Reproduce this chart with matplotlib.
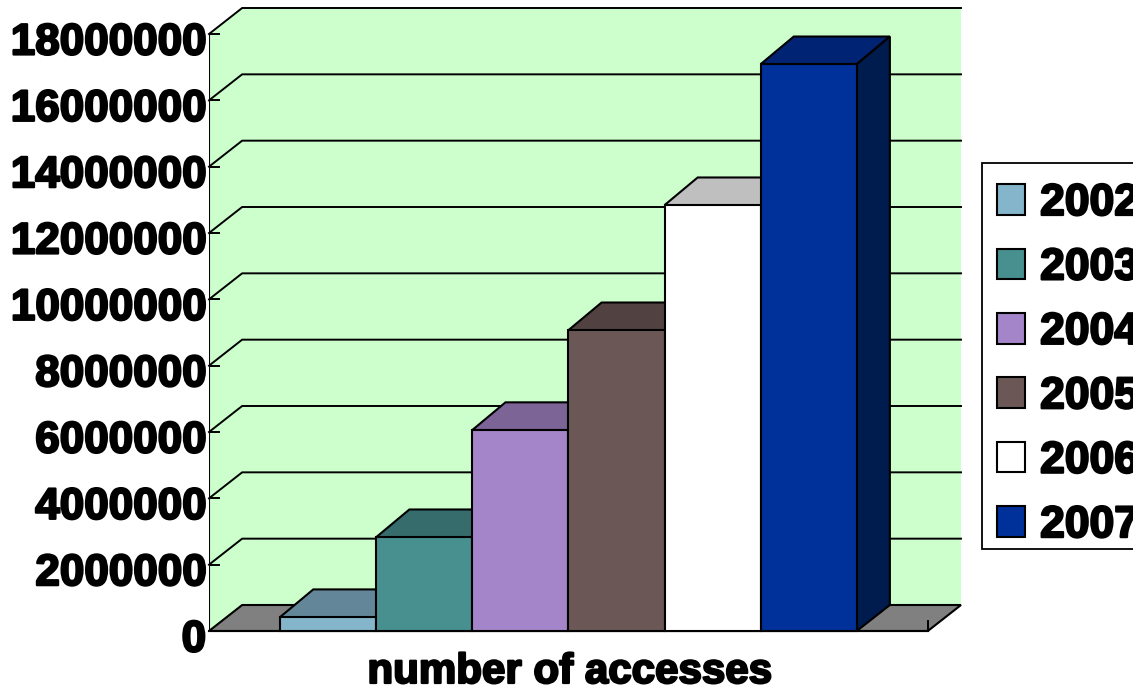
import matplotlib
matplotlib.use("Agg")
import matplotlib.pyplot as plt
import matplotlib.patheffects as pe
from matplotlib.patches import Patch, Polygon, Rectangle

years = ['2002', '2003', '2004', '2005', '2006', '2007']
accesses = [420000, 2830000, 6060000, 9070000, 12840000, 17090000]
front_colors = ['#84B5CB', '#48908F', '#A585C9', '#6B5856', '#FFFFFF', '#00309A']
top_colors = ['#638799', '#366C6B', '#7C6496', '#514241', '#BFBFBF', '#002473']
side_colors = ['#425B66', '#244848', '#534365', '#362C2B', '#808080', '#001B4D']
y_ticks = list(range(0, 18000001, 2000000))
x_label = 'number of accesses'

plt.rcParams['font.family'] = ['Liberation Sans', 'DejaVu Sans']
plt.rcParams['font.weight'] = 'bold'

W, H = 1133, 691
fig = plt.figure(figsize=(W / 100, H / 100), dpi=100)
ax = fig.add_axes([209 / W, 1 - 631 / H, (961 - 209) / W, (631 - 8) / H])
ax.axis('off')

margin = 0.74
depth_x = 0.345
depth_y = 784000
bar_rise = 50000  # bar tops recede slightly more than the floor does
x0 = -margin
x1 = len(years) + margin
ymax = y_ticks[-1]
ax.set_xlim(x0, x1 + depth_x)
ax.set_ylim(0, ymax + depth_y)

# the original text is very heavy, thicken it a little
heavy = [pe.withStroke(linewidth=1.6, foreground='black')]


def poly(points, fc, z=2, ec='black', lw=1.5):
    ax.add_patch(Polygon(points, closed=True, facecolor=fc, edgecolor=ec,
                         linewidth=lw, zorder=z, clip_on=False, joinstyle='miter'))


# walls and floor
poly([(x0, 0), (x0, ymax), (x0 + depth_x, ymax + depth_y), (x1 + depth_x, ymax + depth_y),
      (x1 + depth_x, depth_y), (x0 + depth_x, depth_y)], '#CCFFCC', z=1, ec='none')
poly([(x0, 0), (x0 + depth_x, depth_y), (x1 + depth_x, depth_y), (x1, 0)], '#808080', z=1.5)

# gridlines go along the side wall, then the back wall
for v in y_ticks[1:]:
    ax.plot([x0, x0 + depth_x, x1 + depth_x], [v, v + depth_y, v + depth_y],
            color='black', lw=1.4, zorder=1.8, solid_joinstyle='miter', clip_on=False)
    ax.plot([x0, x0 + 0.1], [v, v], color='black', lw=1.4, zorder=1.8)

ax.plot([x0, x0], [0, ymax], color='black', lw=1.5, zorder=3)
ax.plot([x0, x1], [0, 0], color='black', lw=1.5, zorder=1.6, clip_on=False)
ax.plot([x1, x1], [0, 300000], color='black', lw=1.4, zorder=1.6)

# bars, left to right so each one covers the side of the previous
for i, v in enumerate(accesses):
    z = 4 + i
    back = v + depth_y + bar_rise
    poly([(i, v), (i + depth_x, back), (i + 1 + depth_x, back), (i + 1, v)], top_colors[i], z=z)
    poly([(i + 1, 0), (i + 1 + depth_x, depth_y), (i + 1 + depth_x, back), (i + 1, v)],
         side_colors[i], z=z)
    poly([(i, 0), (i + 1, 0), (i + 1, v), (i, v)], front_colors[i], z=z)

# tick labels sit a bit under their tick, like the original
for v in y_ticks:
    ax.annotate(str(v), (x0, v), xytext=(-3, -9), textcoords='offset pixels',
                ha='right', va='center', fontsize=31.7, fontweight='bold',
                annotation_clip=False, path_effects=heavy)

fig.text(570 / W, 1 - 672 / H, x_label, ha='center', va='center', fontsize=30.3,
         fontweight='bold', path_effects=heavy)

# legend frame runs off the right edge of the picture
fig.add_artist(Rectangle((982 / W, 1 - 549 / H), 170 / W, 386 / H, facecolor='white',
                         edgecolor='black', linewidth=1.3, transform=fig.transFigure, zorder=1))
handles = [Patch(facecolor=c, edgecolor='black', linewidth=1.5) for c in front_colors]
leg = fig.legend(handles, years, loc='upper left', bbox_to_anchor=(997 / W, 1 - 183 / H),
                 borderaxespad=0, borderpad=0, fontsize=32, frameon=False,
                 handlelength=0.63, handleheight=0.68, handletextpad=0.34, labelspacing=0.527)
for t in leg.get_texts():
    t.set_path_effects(heavy)

fig.savefig('out.png', dpi=100)
